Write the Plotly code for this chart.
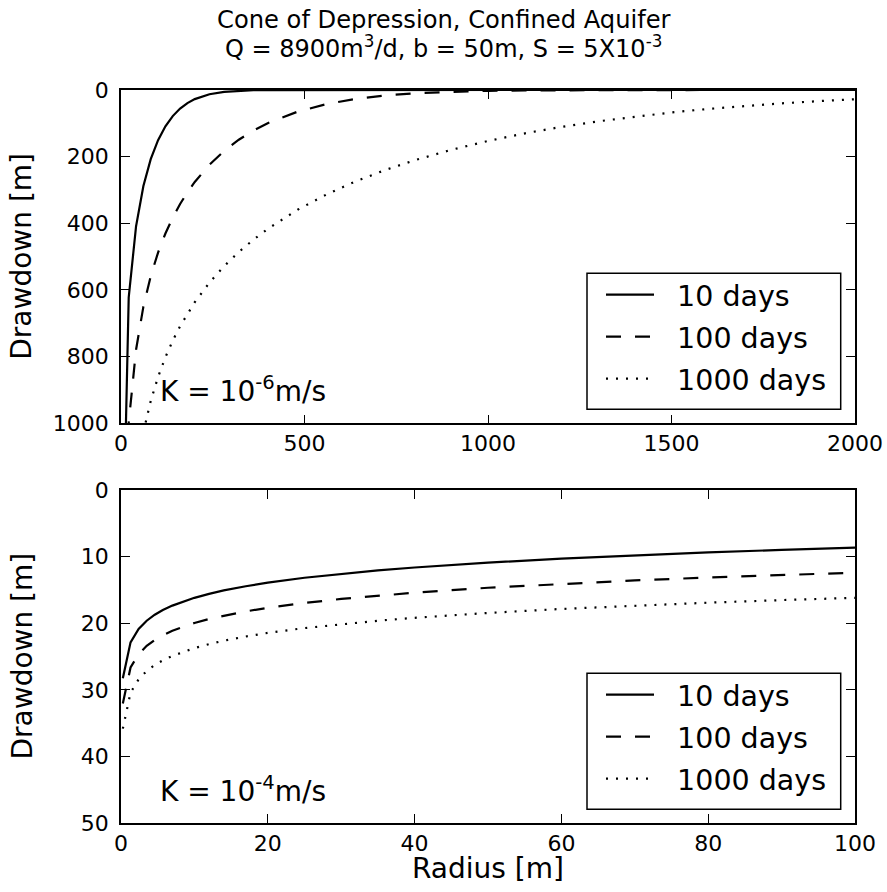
import plotly.graph_objects as go

# ---------------- data ----------------
radius_top = [1, 21, 41, 61, 81, 101, 121, 141, 161, 181, 201, 241, 281, 321, 361, 401,
              481, 561, 641, 721, 801, 901, 1001, 1101, 1201, 1301, 1401, 1501, 1601,
              1701, 1801, 1901, 2000]
s_top_10 = [1618.6, 622.5, 408.9, 287.9, 207.5, 150.4, 108.9, 78.3, 55.8, 39.3, 27.3, 12.6,
            5.4, 2.2, 0.8, 0.3, 0.03, 0, 0, 0, 0, 0, 0, 0, 0, 0, 0, 0, 0, 0, 0, 0, 0]
s_top_100 = [1996.1, 998.1, 779.3, 650.0, 558.4, 487.7, 430.5, 382.8, 342.1, 306.8, 275.9,
             224.2, 182.8, 149.2, 121.7, 99.1, 65.1, 41.9, 26.4, 16.3, 9.8, 5.0, 2.4, 1.1,
             0.5, 0.2, 0.1, 0.03, 0, 0, 0, 0, 0]
s_top_1000 = [2373.6, 1375.4, 1156.1, 1025.9, 933.1, 860.9, 801.8, 751.9, 708.7, 670.7,
              636.7, 578.0, 528.6, 486.1, 448.9, 415.8, 359.4, 312.8, 273.4, 239.7, 210.5,
              179.2, 152.7, 130.0, 110.5, 93.8, 79.5, 67.2, 56.7, 47.7, 40.0, 33.4, 27.8]

radius_bot = [0.25, 1.3, 2.4, 3.5, 4.6, 5.7, 7, 8.5, 10, 12, 14, 17, 20, 25, 30, 35, 40,
              50, 60, 70, 80, 90, 100]
s_bot_10 = [28.28, 22.88, 20.87, 19.63, 18.73, 18.03, 17.36, 16.72, 16.19, 15.59, 15.08,
            14.45, 13.91, 13.18, 12.58, 12.08, 11.64, 10.91, 10.31, 9.81, 9.37, 8.99, 8.64]
s_bot_100 = [32.06, 26.65, 24.64, 23.40, 22.51, 21.80, 21.13, 20.49, 19.96, 19.36, 18.86,
             18.22, 17.69, 16.96, 16.36, 15.85, 15.42, 14.68, 14.09, 13.58, 13.14, 12.76, 12.41]
s_bot_1000 = [35.83, 30.43, 28.42, 27.18, 26.28, 25.58, 24.91, 24.27, 23.74, 23.14, 22.63,
              22.00, 21.46, 20.73, 20.13, 19.63, 19.19, 18.46, 17.86, 17.36, 16.92, 16.53, 16.19]

series_names = ["10 days", "100 days", "1000 days"]
x_ticks_top = [0, 500, 1000, 1500, 2000]
y_ticks_top = [0, 200, 400, 600, 800, 1000]
x_ticks_bot = [0, 20, 40, 60, 80, 100]
y_ticks_bot = [0, 10, 20, 30, 40, 50]

# ---------------- styling ----------------
FONT = "DejaVu Sans"
dashes = ["solid", "15px,14px", "2px,8px"]
LW = 2.2
PAD = "\u00a0\u00a0"

fig = go.Figure()
for name, ys, dash, grp in zip(series_names, [s_top_10, s_top_100, s_top_1000], dashes, ["a", "b", "c"]):
    fig.add_trace(go.Scatter(x=radius_top, y=ys, mode="lines", name=PAD + name,
                             line=dict(color="black", width=LW, dash=dash),
                             xaxis="x", yaxis="y", legend="legend", legendgroup="t" + grp))
for name, ys, dash, grp in zip(series_names, [s_bot_10, s_bot_100, s_bot_1000], dashes, ["a", "b", "c"]):
    fig.add_trace(go.Scatter(x=radius_bot, y=ys, mode="lines", name=PAD + name,
                             line=dict(color="black", width=LW, dash=dash),
                             xaxis="x2", yaxis="y2", legend="legend2", legendgroup="b" + grp))

axis_common = dict(showline=True, linecolor="black", linewidth=1.5, mirror="ticks",
                   ticks="inside", ticklen=9, tickwidth=1.3, tickcolor="black",
                   showgrid=False, zeroline=False,
                   tickfont=dict(family=FONT, size=22, color="black"))

W, H = 887, 892
ml, mr, mt, mb = 121, 32, 90, 69
ph = H - mt - mb
pw = W - ml - mr


def py(px):
    return (H - mb - px) / ph


def pxx(px):
    return (px - ml) / pw


def txt(text, x, y, size, **kw):
    d = dict(text=text, x=pxx(x), y=py(y), xref="paper", yref="paper", showarrow=False,
             xanchor="center", yanchor="middle", font=dict(size=size, family=FONT, color="black"))
    d.update(kw)
    return d


def box(x0, y0, x1, y1):
    return dict(type="rect", xref="paper", yref="paper", x0=pxx(x0), x1=pxx(x1),
                y0=py(y1), y1=py(y0), fillcolor="white", line=dict(color="black", width=1.5),
                layer="above")


legend_common = dict(xanchor="left", yanchor="top", borderwidth=0,
                     bgcolor="rgba(0,0,0,0)", font=dict(family=FONT, size=28.5, color="black"),
                     tracegroupgap=2, itemwidth=48)

fig.update_layout(
    width=W, height=H, paper_bgcolor="white", plot_bgcolor="white",
    margin=dict(l=ml, r=mr, t=mt, b=mb, autoexpand=False),
    font=dict(family=FONT, color="black"),
    xaxis=dict(domain=[0, 1], range=[0, 2000], tickvals=x_ticks_top, anchor="y", **axis_common),
    yaxis=dict(domain=[py(423.3), 1], range=[1000, 0], tickvals=y_ticks_top, anchor="x",
               ticklabelstandoff=6, **axis_common),
    xaxis2=dict(domain=[0, 1], range=[0, 100], tickvals=x_ticks_bot, anchor="y2", **axis_common),
    yaxis2=dict(domain=[0, py(490)], range=[50, 0], tickvals=y_ticks_bot, anchor="x2",
                ticklabelstandoff=6, **axis_common),
    legend=dict(x=pxx(601), y=py(269.5), **legend_common),
    legend2=dict(x=pxx(601), y=py(669.5), **legend_common),
    shapes=[box(587, 273.3, 840.7, 409.3), box(587, 673.3, 840.7, 809.3)],
    annotations=[
        txt("Cone of Depression, Confined Aquifer", 443.5, 20, 24.2),
        txt("Q = 8900m<sup>3</sup>/d, b = 50m, S = 5X10<sup>-3</sup>", 443.5, 47, 24),
        txt("K = 10<sup>-6</sup>m/s", 158, 389, 28, xanchor="left"),
        txt("K = 10<sup>-4</sup>m/s", 158, 789, 28, xanchor="left"),
        txt("Drawdown [m]", 22, 256.7, 28, textangle=-90),
        txt("Drawdown [m]", 22, 656.5, 28, textangle=-90),
        txt("Radius [m]", 487.5, 869, 28),
    ],
)

fig.write_html("out.html", config={"displayModeBar": False},
               post_script="document.body.style.margin='0px';document.body.style.overflow='hidden';")
